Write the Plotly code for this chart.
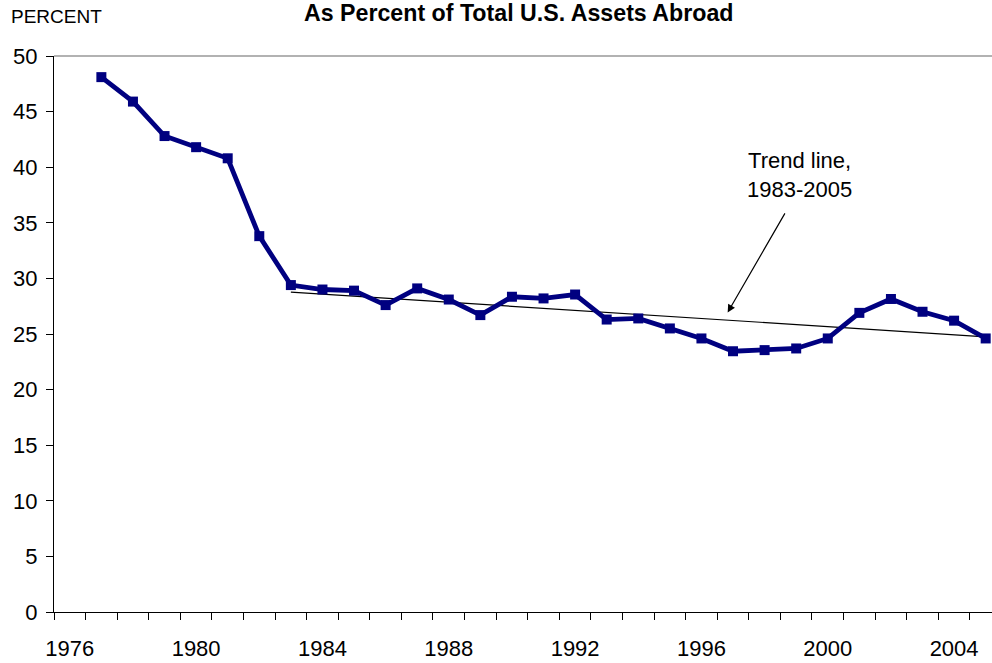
import plotly.graph_objects as go

# ---- data ----
years = list(range(1977, 2006))
percent = [48.1, 45.9, 42.8, 41.8, 40.8, 33.8, 29.4, 29.0, 28.9, 27.6,
           29.1, 28.1, 26.7, 28.35, 28.2, 28.55, 26.3, 26.4, 25.5, 24.6,
           23.45, 23.55, 23.7, 24.6, 26.9, 28.15, 27.0, 26.2, 24.6]
trend_years = [1983, 2005]
trend_values = [28.77, 24.75]
x_tick_labels = [1976, 1980, 1984, 1988, 1992, 1996, 2000, 2004]
y_tick_values = [0, 5, 10, 15, 20, 25, 30, 35, 40, 45, 50]

FONT = "Liberation Sans, Arial, sans-serif"
NAVY = "#000080"

fig = go.Figure()
fig.add_trace(go.Scatter(
    x=trend_years, y=trend_values, mode="lines",
    line=dict(color="black", width=1.2), hoverinfo="skip", showlegend=False))
fig.add_trace(go.Scatter(
    x=years, y=percent, mode="lines+markers",
    line=dict(color=NAVY, width=4.8),
    marker=dict(symbol="square", size=10, color=NAVY),
    cliponaxis=False, showlegend=False))

fig.update_layout(
    width=992, height=663,
    margin=dict(l=54, r=0, t=56, b=51),
    paper_bgcolor="white", plot_bgcolor="white",
    font=dict(family=FONT, size=22, color="black"),
    showlegend=False,
    xaxis=dict(
        range=[1975.5, 2005.2],
        tickmode="array", tickvals=x_tick_labels,
        ticktext=[str(v) for v in x_tick_labels],
        ticks="outside", ticklen=7, tickcolor="rgba(0,0,0,0)",
        showline=True, linecolor="black", linewidth=1,
        showgrid=False, zeroline=False,
        tickfont=dict(family=FONT, size=22, color="black"),
        minor=dict(tickmode="linear", tick0=1975.5, dtick=1,
                   ticks="outside", ticklen=7, tickcolor="black",
                   tickwidth=1, showgrid=False),
        ticklabelstandoff=10,
    ),
    yaxis=dict(
        range=[0, 50],
        tickmode="array", tickvals=y_tick_values,
        ticks="outside", ticklen=7, tickcolor="black", tickwidth=1,
        showline=True, linecolor="black", linewidth=1,
        showgrid=False, zeroline=False,
        tickfont=dict(family=FONT, size=22, color="black"),
        ticklabelstandoff=4,
    ),
    shapes=[dict(type="line", xref="paper", yref="paper",
                 x0=0, x1=1, y0=1, y1=1,
                 line=dict(color="#999999", width=1.5))],
    annotations=[
        dict(text="<b>As Percent of Total U.S. Assets Abroad</b>",
             xref="paper", yref="paper", x=0.4956, y=1.077,
             xanchor="center", yanchor="middle", showarrow=False,
             font=dict(family=FONT, size=23.2, color="black")),
        dict(text="PERCENT", xref="paper", yref="paper",
             x=0.003, y=1.0714, xanchor="center", yanchor="middle",
             showarrow=False, font=dict(family=FONT, size=19, color="black")),
        dict(text="Trend line,<br>1983-2005", xref="x", yref="y",
             x=1999.1, y=39.3, xanchor="center", yanchor="middle",
             showarrow=False, align="center",
             font=dict(family=FONT, size=22, color="black")),
        dict(text="", xref="x", yref="y", x=1996.83, y=26.93,
             axref="x", ayref="y", ax=1998.67, ay=35.98,
             showarrow=True, arrowhead=2, arrowsize=1.3, arrowwidth=1.2,
             arrowcolor="black", standoff=0, startstandoff=0),
    ],
)

fig.write_html("out.html")
